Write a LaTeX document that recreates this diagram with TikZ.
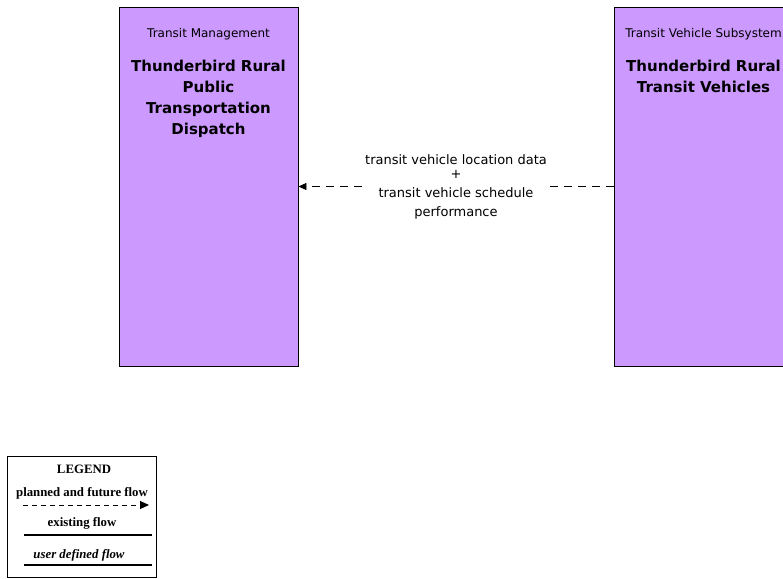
\documentclass[tikz,border=0pt]{standalone}
\usepackage{fontspec}
\setmainfont{Liberation Serif}
\newfontfamily\boxfont{DejaVu Sans}
\usetikzlibrary{arrows.meta, positioning, calc}
\definecolor{subsysfill}{HTML}{CC99FF}
\tikzstyle{subsystem}  = [rectangle, minimum width=179pt, minimum height=359pt,
                          draw=black, fill=subsysfill, line width=0.8pt, inner sep=0pt]
\tikzstyle{classlabel} = [inner sep=0pt, font=\boxfont\fontsize{12}{14}\selectfont]
\tikzstyle{subsysname} = [inner sep=0pt, align=center, font=\boxfont\bfseries\fontsize{15}{21}\selectfont]
\tikzstyle{flowlabel}  = [fill=white, inner sep=2pt, align=center, font=\boxfont\fontsize{13}{19}\selectfont]
\tikzstyle{planned}    = [line width=0.8pt, dash pattern=on 8pt off 6pt, -{Triangle[length=8pt,width=7pt]}]
\tikzstyle{legendbox}  = [rectangle, minimum width=149pt, minimum height=121pt, draw=black, line width=0.8pt]
\tikzstyle{legendtext} = [inner sep=0pt, font=\bfseries\fontsize{12.8}{15}\selectfont]
\tikzstyle{legplanned} = [line width=1pt, dash pattern=on 5pt off 4pt, -{Triangle[length=9pt,width=8pt]}]
\tikzstyle{legline}    = [line width=1.2pt]

\begin{document}
\begin{tikzpicture}[x=1pt, y=-1pt]
  \useasboundingbox (0,0) rectangle (783,578);
  \clip (0,0) rectangle (783,578);

  % Subsystems
  \node (tm) [subsystem] at (208.5,186.5) {};
  \node (tv) [subsystem] at (703.5,186.5) {};

  % Subsystem class and element names
  \node (tmClass) [classlabel, below=22pt of tm.north] {Transit Management};
  \node (tmName)  [subsysname, below=53pt of tm.north]
                  {Thunderbird Rural\\Public\\Transportation\\Dispatch};
  \node (tvClass) [classlabel, below=22pt of tv.north] {Transit Vehicle Subsystem};
  \node (tvName)  [subsysname, below=53pt of tv.north]
                  {Thunderbird Rural\\Transit Vehicles};

  % Flow
  \draw[planned] (tv) -- node[flowlabel]
      {transit vehicle location data\\[-5pt]+\\transit vehicle schedule\\performance} (tm);

  % Legend
  \node (legend)     [legendbox]  at (81.5,516.5) {};
  \node (legTitle)   [legendtext] at (84,469) {LEGEND};
  \node (legPlanned) [legendtext] at (82,493) {planned and future flow};
  \node (legExist)   [legendtext] at (82,523) {existing flow};
  \node (legUser)    [legendtext, font=\bfseries\itshape\fontsize{12.8}{15}\selectfont] at (79,555) {user defined flow};
  \coordinate (plannedA) at (23,505);
  \coordinate (plannedB) at (149,505);
  \coordinate (existA)   at (24,535);
  \coordinate (existB)   at (152,535);
  \coordinate (userA)    at (24,565);
  \coordinate (userB)    at (152,565);
  \draw[legplanned] (plannedA) -- (plannedB);
  \draw[legline]    (existA) -- (existB);
  \draw[legline]    (userA) -- (userB);

\end{tikzpicture}
\end{document}
